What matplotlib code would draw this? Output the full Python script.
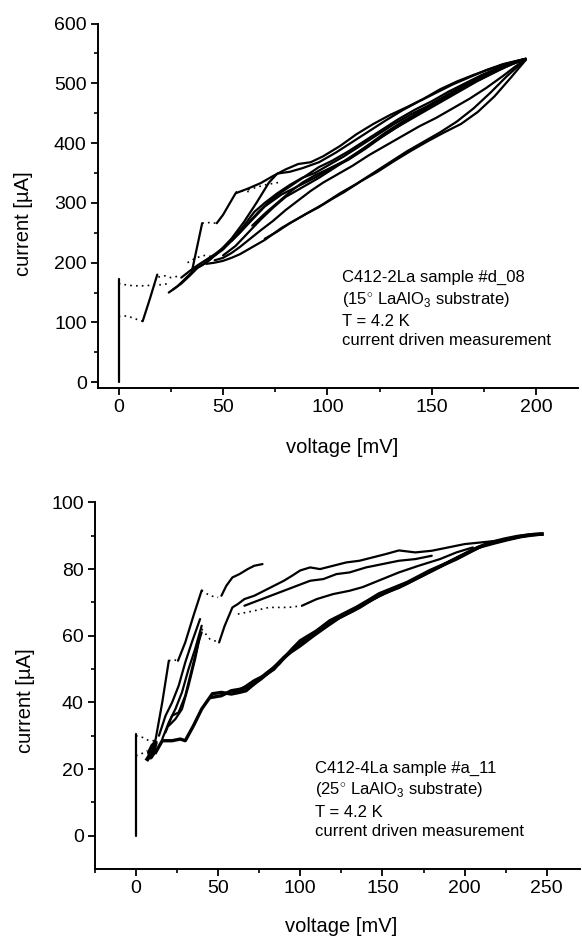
import numpy as np
import matplotlib
matplotlib.use("Agg")
import matplotlib.pyplot as plt

plt.rcParams['font.family'] = ['Liberation Sans', 'DejaVu Sans']
plt.rcParams['mathtext.fontset'] = 'custom'
plt.rcParams['mathtext.rm'] = 'Liberation Sans'

# ---------------- upper panel: C412-2La #d_08 (V in mV, I in uA)
top_super_v = [0, 0]
top_super_i = [0, 172]
top_jump1_v = [0, 5, 10, 15, 20, 24]
top_jump1_i = [165, 162, 161, 162, 163, 165]
top_jump2_v = [0, 4, 8, 11.5]
top_jump2_i = [110, 111, 106, 102]
top_step_v = [11.5, 15, 18.5]
top_step_i = [102, 140, 180]

tb1a_v = [24, 28, 31, 35, 40]
tb1a_i = [150, 160, 170, 184, 266]
tb1d_v = [40, 43, 47]
tb1d_i = [266, 267, 266]
tb1b_v = [47, 50, 56, 62, 68, 74, 80, 86, 92, 98, 106, 114, 122, 130, 138, 146, 154, 162, 170, 178, 186, 195]
tb1b_i = [266, 280, 316, 324, 333, 345, 356, 365, 368, 378, 395, 415, 432, 447, 460, 474, 490, 503, 514, 524, 533, 541]
tb2_v = [26, 30, 34, 38, 42, 46, 50, 55, 60, 65, 70, 76, 82, 88, 94, 100, 108, 116, 124, 132, 140, 148, 156, 164, 172, 180, 188, 195]
tb2_i = [155, 165, 178, 192, 200, 212, 222, 240, 262, 285, 300, 316, 330, 342, 350, 362, 378, 396, 414, 432, 448, 462, 478, 494, 508, 520, 532, 540]
tb3_v = [42, 46, 50, 54, 58, 62, 66, 70, 74, 78, 84, 90, 96, 102, 108, 116, 124, 132, 140, 148, 156, 164, 172, 180, 188, 195]
tb3_i = [198, 200, 203, 208, 214, 222, 230, 238, 248, 258, 270, 282, 293, 306, 318, 336, 352, 370, 387, 403, 418, 432, 452, 478, 510, 539]
tb4_v = [46, 50, 54, 58, 63, 68, 74, 80, 86, 92, 98, 105, 112, 120, 128, 136, 144, 152, 160, 168, 176, 184, 190, 195]
tb4_i = [204, 208, 216, 226, 240, 254, 270, 288, 304, 320, 334, 348, 362, 380, 396, 412, 428, 442, 458, 474, 492, 512, 528, 540]
tb5_v = [54, 58, 62, 67, 72, 78, 84, 90, 96, 102, 110, 118, 126, 134, 142, 150, 158, 166, 174, 182, 190, 195]
tb5_i = [236, 250, 266, 285, 302, 318, 332, 346, 360, 370, 386, 404, 422, 440, 456, 470, 486, 500, 514, 526, 536, 541]
tb6_v = [36, 40, 44, 48, 54, 60, 66, 72, 76, 82, 88, 96, 104, 112, 120, 128, 136, 144, 152, 160, 168, 176, 184, 190, 195]
tb6_i = [188, 196, 206, 218, 240, 268, 300, 334, 349, 352, 358, 368, 384, 402, 420, 438, 455, 470, 484, 498, 510, 522, 532, 537, 541]
tb7_v = [30, 34, 38, 42, 46, 52, 58, 64, 70, 78, 86, 94, 102, 110, 118, 126, 134, 142, 150, 158, 166, 174, 182, 190, 195]
tb7_i = [175, 186, 196, 205, 214, 230, 250, 272, 294, 314, 328, 342, 358, 372, 390, 410, 428, 446, 462, 478, 494, 508, 522, 534, 540]
tb8_v = [50, 56, 62, 68, 74, 80, 88, 96, 104, 112, 120, 128, 136, 144, 152, 160, 168, 176, 184, 192, 195]
tb8_i = [212, 228, 250, 272, 292, 310, 326, 342, 360, 378, 398, 418, 436, 452, 468, 484, 500, 516, 530, 538, 541]
tb9_v = [64, 70, 76, 82, 88, 94, 100, 108, 116, 124, 132, 140, 148, 156, 164, 172, 180, 188, 195]
tb9_i = [262, 282, 300, 318, 334, 346, 356, 370, 388, 406, 424, 440, 456, 472, 488, 504, 518, 532, 540]
tb10_v = [70, 76, 82, 90, 98, 106, 114, 122, 130, 138, 146, 154, 162, 170, 178, 186, 195]
tb10_i = [240, 252, 266, 282, 298, 316, 332, 350, 368, 386, 402, 418, 436, 458, 484, 512, 540]

td1_v = [56, 60, 64]
td1_i = [318, 320, 318]
td2_v = [33, 37, 41, 45, 48]
td2_i = [200, 208, 212, 210, 215]
td3_v = [62, 70, 78]
td3_i = [322, 330, 335]
td4_v = [19, 22, 25, 28]
td4_i = [176, 178, 175, 177]

# ---------------- lower panel: C412-4La #a_11
bot_super_v = [0, 0]
bot_super_i = [0, 30.5]
bj1_v = [0, 4, 8, 12]
bj1_i = [30, 29.5, 28.5, 28.5]
bj2_v = [0, 3, 7]
bj2_i = [24, 24.5, 25.5]
bblob_v = [7, 9, 11, 12, 10, 8, 9, 11]
bblob_i = [23, 24.5, 26, 28, 27, 25, 23.5, 25]

bu1_v = [9, 12, 16, 20]
bu1_i = [25, 29, 40, 52.5]
bu1d_v = [20, 23, 25.6]
bu1d_i = [52.5, 52.8, 52.5]
bu1b_v = [25.6, 30, 35, 40]
bu1b_i = [52.5, 58, 66, 73.6]
bu1e_v = [40, 45, 50]
bu1e_i = [73.6, 72, 71.5]
bu1c_v = [52, 55, 58.7, 63, 68, 72, 77]
bu1c_i = [72, 75, 77.5, 78.5, 80, 81, 81.5]

bs1_v = [14, 18, 22, 26, 30, 34, 39]
bs1_i = [30, 36, 40, 45, 52, 58, 65]
bs2_v = [16, 20, 24, 28, 32, 36, 40]
bs2_i = [29, 34, 38, 43, 50, 56, 63]
bs3_v = [18, 22, 26, 30, 34, 38, 40]
bs3_i = [31, 36, 37, 42, 50, 58, 61]
bs4_v = [20, 24, 28, 32, 36, 39]
bs4_i = [33, 35, 38, 45, 53, 60]
bsd_v = [40, 45, 50.6]
bsd_i = [62, 59, 58]

bm_v = [50.6, 54, 58.7, 62, 66, 72, 78, 84, 90, 95, 100, 106, 112, 120, 128, 136, 144, 152, 160, 170, 180, 190, 200, 210, 220, 230, 240, 247]
bm_i = [58, 63, 68.5, 69.5, 71, 72, 73.5, 75, 76.5, 78, 79.6, 80.5, 80, 81, 82, 82.5, 83.5, 84.5, 85.6, 85, 85.5, 86.5, 87.5, 88, 88.5, 89.5, 90.2, 90.5]
bm2d_v = [62, 72, 81, 93, 101]
bm2d_i = [66.5, 67.5, 68.5, 68.5, 69]
bm2_v = [101, 110, 120, 130, 138, 150, 160, 172, 185, 195, 205]
bm2_i = [69, 71, 72.5, 73.5, 74.6, 77, 79, 81, 83, 85, 86.5]
bm3_v = [66, 74, 82, 90, 98, 106, 114, 122, 130, 140, 150, 160, 170, 180]
bm3_i = [69, 70.5, 72, 73.5, 75, 76.5, 77, 78.5, 79, 80.5, 81.5, 82.5, 83, 84]

bl1_v = [12, 16, 22, 27, 30, 35, 40, 46.5, 52, 58, 63, 67, 73, 79, 87, 95, 100, 110, 118, 126, 134, 141, 148, 156, 165, 172, 179, 187, 195, 202, 209, 218, 226, 234, 241, 247]
bl1_i = [25, 28.5, 28.5, 29, 28.5, 33, 38, 42.6, 43, 42.5, 43, 43.5, 46, 48.6, 51.6, 56, 58.5, 61.5, 64.5, 66.5, 68.5, 70.5, 72.6, 74.2, 76, 77.8, 79.6, 81.3, 83, 84.8, 86.6, 87.8, 88.8, 89.7, 90.2, 90.5]
bl2_v = [46, 52, 58, 64, 70, 76, 82, 88, 94, 100, 108, 116, 124, 132, 140, 148, 156, 164, 172, 180, 188, 196, 204, 212, 220, 228, 236, 242, 247]
bl2_i = [41.5, 42, 43.5, 44, 45, 47, 49.5, 52.5, 55, 57, 60, 62.8, 65.5, 67.5, 69.8, 72, 73.8, 75.5, 77.5, 79.5, 81.5, 83.5, 85.5, 87.2, 88.3, 89.2, 90, 90.4, 90.5]
bl3_v = [60, 66, 72, 78, 84, 90, 96, 104, 112, 120, 128, 136, 144, 152, 160, 168, 176, 184, 192, 200, 208, 216, 224, 232, 240, 247]
bl3_i = [43, 44.5, 46.5, 48, 50, 53.5, 56, 59, 62, 64.5, 66.5, 68.5, 71, 73, 74.5, 76.5, 78.5, 80.5, 82.5, 84.5, 86.5, 88, 89, 89.8, 90.3, 90.5]

top_note = "C412-2La sample #d_08\n(15$^{\\circ}$ LaAlO$_3$ substrate)\nT = 4.2 K\ncurrent driven measurement"
bot_note = "C412-4La sample #a_11\n(25$^{\\circ}$ LaAlO$_3$ substrate)\nT = 4.2 K\ncurrent driven measurement"

fig = plt.figure(figsize=(5.82, 9.4), dpi=100)
ax1 = fig.add_axes([0.168, 0.587, 0.825, 0.388])
ax2 = fig.add_axes([0.163, 0.0755, 0.833, 0.390])

solid = dict(color='black', lw=1.6, solid_capstyle='round')
dots = dict(color='black', lw=1.2, ls=(0, (1, 2.5)))

for v, i in [(top_super_v, top_super_i), (top_step_v, top_step_i), (tb1a_v, tb1a_i), (tb1b_v, tb1b_i),
             (tb2_v, tb2_i), (tb3_v, tb3_i), (tb4_v, tb4_i), (tb5_v, tb5_i), (tb6_v, tb6_i),
             (tb7_v, tb7_i), (tb8_v, tb8_i), (tb9_v, tb9_i), (tb10_v, tb10_i)]:
    ax1.plot(v, i, **solid)
for v, i in [(top_jump1_v, top_jump1_i), (top_jump2_v, top_jump2_i), (tb1d_v, tb1d_i), (td1_v, td1_i),
             (td2_v, td2_i), (td3_v, td3_i), (td4_v, td4_i)]:
    ax1.plot(v, i, **dots)

for v, i in [(bot_super_v, bot_super_i), (bu1_v, bu1_i), (bu1b_v, bu1b_i), (bu1c_v, bu1c_i),
             (bs1_v, bs1_i), (bs2_v, bs2_i), (bs3_v, bs3_i), (bs4_v, bs4_i),
             (bm_v, bm_i), (bm2_v, bm2_i), (bm3_v, bm3_i)]:
    ax2.plot(v, i, **solid)
for v, i in [(bl1_v, bl1_i), (bl2_v, bl2_i), (bl3_v, bl3_i)]:
    ax2.plot(v, i, color='black', lw=2.4)
ax2.plot(bblob_v, bblob_i, color='black', lw=3)
for v, i in [(bj1_v, bj1_i), (bj2_v, bj2_i), (bu1d_v, bu1d_i), (bu1e_v, bu1e_i),
             (bsd_v, bsd_i), (bm2d_v, bm2d_i)]:
    ax2.plot(v, i, **dots)

ax1.set_xlim(-10, 220)
ax1.set_ylim(-10, 600)
ax1.set_xticks([0, 50, 100, 150, 200])
ax1.set_xticks(np.arange(25, 220, 50), minor=True)
ax1.set_yticks(np.arange(0, 601, 100))
ax1.set_yticks(np.arange(50, 600, 100), minor=True)

ax2.set_xlim(-25, 270)
ax2.set_ylim(-10, 100)
ax2.set_xticks([0, 50, 100, 150, 200, 250])
ax2.set_xticks(np.arange(-25, 270, 50), minor=True)
ax2.set_yticks(np.arange(0, 101, 20))
ax2.set_yticks(np.arange(10, 100, 20), minor=True)

for ax in (ax1, ax2):
    ax.spines['top'].set_visible(False)
    ax.spines['right'].set_visible(False)
    ax.spines['left'].set_linewidth(1.4)
    ax.spines['bottom'].set_linewidth(1.4)
    ax.tick_params(which='major', direction='out', length=5, width=1.3, labelsize=14, pad=3)
    ax.tick_params(which='minor', direction='out', length=3, width=1.2)
    ax.set_xlabel("voltage [mV]", fontsize=14.5)
    ax.set_ylabel("current [µA]", fontsize=14.5)

ax1.xaxis.set_label_coords(0.508, -0.137)
ax1.yaxis.set_label_coords(-0.135, 0.452)
ax2.xaxis.set_label_coords(0.507, -0.131)
ax2.yaxis.set_label_coords(-0.124, 0.46)

fig.text(0.588, 0.713, top_note, fontsize=12, va='top', ha='left', linespacing=1.35)
fig.text(0.541, 0.191, bot_note, fontsize=12, va='top', ha='left', linespacing=1.35)

fig.savefig("out.png", dpi=100)
